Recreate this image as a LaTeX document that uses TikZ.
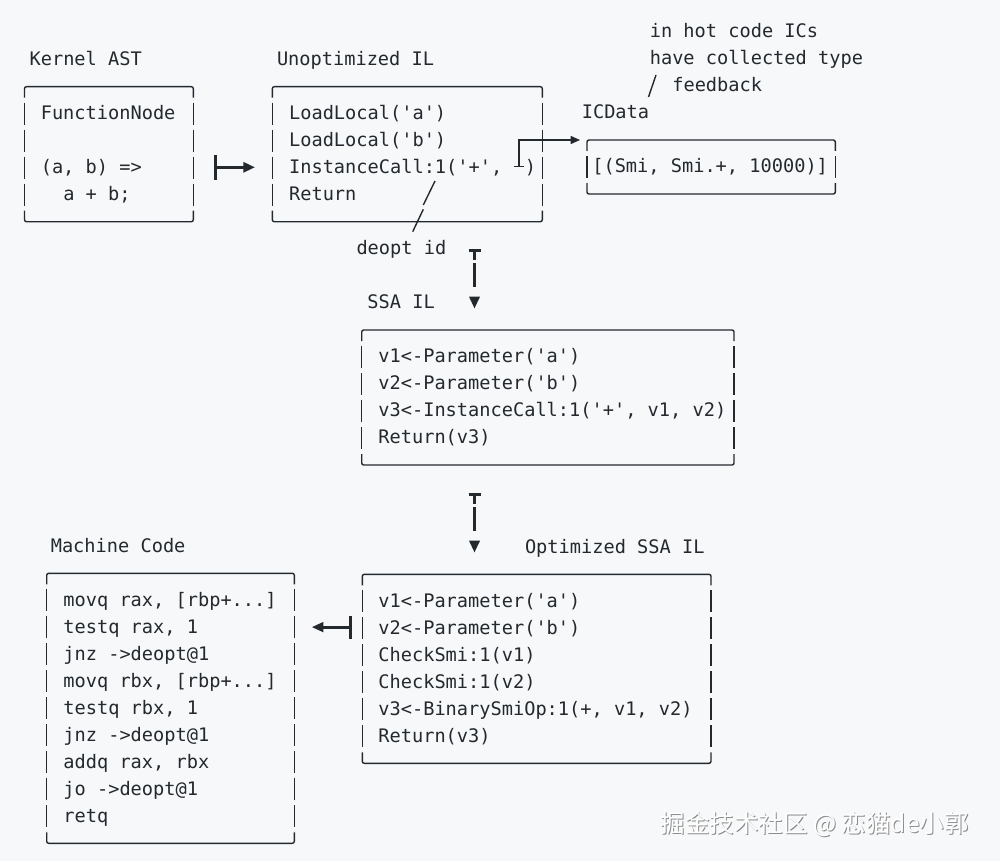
\documentclass[tikz,border=0pt]{standalone}
\usepackage{fontspec}
\setmonofont{DejaVu Sans Mono}
\newfontfamily\cjk{Noto Sans CJK SC}
\usetikzlibrary{arrows.meta,calc}
\definecolor{bg}{RGB}{246,248,250}
\definecolor{ink}{RGB}{36,41,46}
\frenchspacing
% ascii-style box: name, left x, right x, top y, number of text rows
\newcommand{\asciibox}[5]{%
  \pgfmathsetmacro{\bxbot}{#4+27*(#5+1)}%
  \pgfmathsetmacro{\bxwid}{#3-#2}%
  \pgfmathsetmacro{\bxhei}{27*(#5+1)}%
  \node[boxarea, minimum width=\bxwid pt, minimum height=\bxhei pt, anchor=north west] (#1) at (#2,#4) {};
  \draw[boxline, rounded corners=2pt] (#2,{#4+11}) -- (#2,#4) -- (#3,#4) -- (#3,{#4+11});
  \draw[boxline, rounded corners=2pt] (#2,{\bxbot-11}) -- (#2,\bxbot) -- (#3,\bxbot) -- (#3,{\bxbot-11});
  \foreach \k in {1,...,#5} {
    \draw[boxline] (#2,{#4+27*\k-11}) -- (#2,{#4+27*\k+11});
    \draw[boxline] (#3,{#4+27*\k-11}) -- (#3,{#4+27*\k+11});
  }%
}
% text line: name, x, box top, row index, text
\newcommand{\codeat}[5]{\node[code] (#1) at (#2,{#3+27*(#4)+5.7}) {#5};}
\begin{document}
\begin{tikzpicture}[x=1pt,y=-1pt,
  code/.style={anchor=base west, inner sep=0pt, outer sep=0pt, text=ink,
    font=\ttfamily\fontsize{18.64}{27}\selectfont},
  boxline/.style={draw=ink, line width=1.4pt},
  boxarea/.style={inner sep=0pt, outer sep=0pt, draw=none},
  heavy/.style={draw=ink, line width=2.8pt},
  tee/.style={draw=ink, line width=3pt},
  headfill/.style={fill=ink, draw=none},
  wmark/.style={anchor=base west, inner sep=0pt, font=\cjk\fontsize{24.5}{30}\selectfont},
]
\fill[bg] (0,0) rectangle (1000,861);
\useasboundingbox (0,0) rectangle (1000,861);

% ---------- boxes ----------
\asciibox{kast}{24.5}{193.3}{86.7}{4}
\asciibox{unopt}{272.3}{542.3}{86.7}{4}
\asciibox{icdata}{587}{835.3}{140}{1}
\asciibox{ssa}{361.7}{734}{330}{4}
\asciibox{opt}{362.3}{711}{574.3}{6}
\asciibox{mc}{46.7}{294.3}{573.3}{9}

% ---------- Kernel AST ----------
\codeat{kastlbl}{29.6}{86.7}{-1}{Kernel AST}
\codeat{kast1}{40.8}{86.7}{1}{FunctionNode}
\codeat{kast3}{40.8}{86.7}{3}{(a, b) =>}
\codeat{kast4}{63.3}{86.7}{4}{a + b;}

% ---------- Unoptimized IL ----------
\codeat{unoptlbl}{277}{86.7}{-1}{Unoptimized IL}
\codeat{ul1}{289.1}{86.7}{1}{LoadLocal('a')}
\codeat{ul2}{289.1}{86.7}{2}{LoadLocal('b')}
\codeat{ul3}{289.1}{86.7}{3}{InstanceCall:1('+', \phantom{x})}
\codeat{ul4}{289.1}{86.7}{4}{Return}
\codeat{deopt}{356.5}{86.7}{6}{deopt id}

% ---------- ICData ----------
\codeat{iclbl}{581.8}{140}{-1}{ICData}
\codeat{ic1}{592.3}{140}{1}{[(Smi, Smi.+, 10000)]}
\codeat{note1}{649.8}{140}{-4}{in hot code ICs}
\codeat{note2}{649.8}{140}{-3}{have collected type}
\codeat{note3}{672.3}{140}{-2}{feedback}
\coordinate (slA) at (648.5,97);
\coordinate (slB) at (656,75);
\draw[boxline] (slA) -- (slB);

% ---------- SSA IL ----------
\codeat{ssalbl}{367.4}{330}{-1}{SSA IL}
\codeat{s1}{378.4}{330}{1}{v1<-Parameter('a')}
\codeat{s2}{378.4}{330}{2}{v2<-Parameter('b')}
\codeat{s3}{378.4}{330}{3}{v3<-InstanceCall:1('+', v1, v2)}
\codeat{s4}{378.4}{330}{4}{Return(v3)}

% ---------- Optimized SSA IL ----------
\codeat{optlbl}{525}{574.3}{-1}{Optimized SSA IL}
\codeat{o1}{378.4}{574.3}{1}{v1<-Parameter('a')}
\codeat{o2}{378.4}{574.3}{2}{v2<-Parameter('b')}
\codeat{o3}{378.4}{574.3}{3}{CheckSmi:1(v1)}
\codeat{o4}{378.4}{574.3}{4}{CheckSmi:1(v2)}
\codeat{o5}{378.4}{574.3}{5}{v3<-BinarySmiOp:1(+, v1, v2)}
\codeat{o6}{378.4}{574.3}{6}{Return(v3)}

% ---------- Machine Code ----------
\codeat{mclbl}{50.8}{573.3}{-1}{Machine Code}
\codeat{m1}{63.4}{573.3}{1}{movq rax, [rbp+...]}
\codeat{m2}{63.4}{573.3}{2}{testq rax, 1}
\codeat{m3}{63.4}{573.3}{3}{jnz ->deopt@1}
\codeat{m4}{63.4}{573.3}{4}{movq rbx, [rbp+...]}
\codeat{m5}{63.4}{573.3}{5}{testq rbx, 1}
\codeat{m6}{63.4}{573.3}{6}{jnz ->deopt@1}
\codeat{m7}{63.4}{573.3}{7}{addq rax, rbx}
\codeat{m8}{63.4}{573.3}{8}{jo ->deopt@1}
\codeat{m9}{63.4}{573.3}{9}{retq}

% ---------- connectors ----------
% Kernel AST |-> Unoptimized IL
\draw[heavy, {Bar[width=25pt]}-{Triangle[length=11.7pt,width=10pt]}]
  ($(kast.east)+(21,13.1)$) -- ($(unopt.west)+(-17.3,13.1)$);

% InstanceCall IC slot -> ICData
\coordinate (perp) at (519,167.5);
\draw[boxline, {Bar[width=10pt]}-{Triangle[length=9.3pt,width=8pt]}]
  (perp) |- ([xshift=-7pt]icdata.north west);

% deopt id pointer
\coordinate (dpA) at (435,181);
\coordinate (dpB) at (423.3,205);
\coordinate (dpC) at (423.3,209.3);
\coordinate (dpD) at (412.7,231.7);
\draw[boxline] (dpA) -- (dpB);
\draw[boxline] (dpC) -- (dpD);

% Unoptimized IL -> SSA IL
\coordinate (t1a) at (474.5,248.5);
\coordinate (t1b) at (474.5,260);
\coordinate (t1c) at (474.5,263);
\coordinate (t1d) at (474.5,286.7);
\draw[tee, {Bar[width=12pt]}-] (t1a) -- (t1b);
\draw[tee] (t1c) -- (t1d);
\fill[headfill] (474.5,308.3) -- (469,296.7) -- (480,296.7) -- cycle;

% SSA IL -> Optimized SSA IL
\coordinate (t2a) at (474.5,492.5);
\coordinate (t2b) at (474.5,504);
\coordinate (t2c) at (474.5,507);
\coordinate (t2d) at (474.5,530.7);
\draw[tee, {Bar[width=12pt]}-] (t2a) -- (t2b);
\draw[tee] (t2c) -- (t2d);
\fill[headfill] (474.5,552.3) -- (469,540.7) -- (480,540.7) -- cycle;

% Optimized SSA IL -| Machine Code
\draw[heavy, {Bar[width=23pt]}-{Triangle[length=11.6pt,width=9.5pt]}]
  ($(opt.west)+(-10.2,-41.7)$) -- ($(mc.east)+(17.4,-81.2)$);

% ---------- watermark ----------
\node[wmark, text=black!45] (wmshadow) at (661.5,833.5) {掘金技术社区 @ 恋猫de小郭};
\node[wmark, text=white] (wm) at (660.5,832.5) {掘金技术社区 @ 恋猫de小郭};
\end{tikzpicture}
\end{document}
